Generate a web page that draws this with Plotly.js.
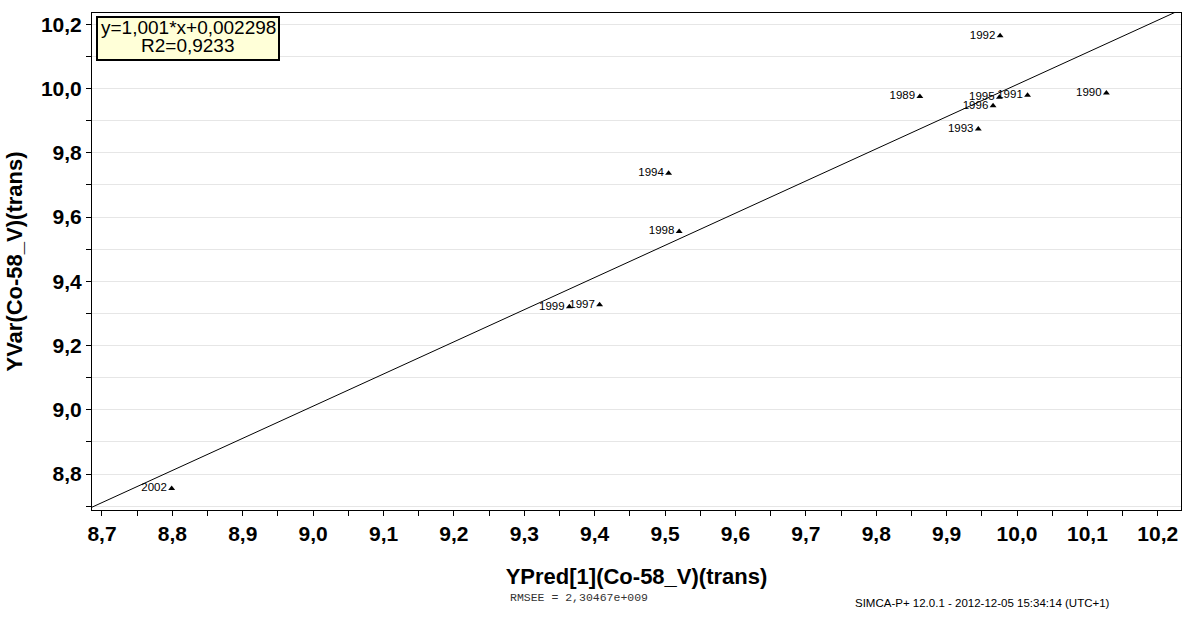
<!DOCTYPE html>
<html>
<head>
<meta charset="utf-8">
<script src="https://cdn.plot.ly/plotly-3.0.1.min.js"></script>
<style>
  html, body { margin: 0; padding: 0; background: #ffffff; }
  #chart { width: 1183px; height: 628px; }
</style>
</head>
<body>
<div id="chart"></div>
<script>
// Observation labels (years)
const years = ["1989", "1990", "1991", "1992", "1993", "1994", "1995", "1996", "1997", "1998", "1999", "2002"];
// Predicted Y (x-axis) and observed Y (y-axis), transformed Co-58_V
const yPred = [9.862, 10.127, 10.015, 9.976, 9.945, 9.505, 9.975, 9.966, 9.407, 9.520, 9.364, 8.799];
const yVar  = [9.975, 9.986, 9.979, 10.164, 9.874, 9.736, 9.973, 9.946, 9.327, 9.555, 9.321, 8.755];

// Fitted regression line and its statistics
const slope = 1.001;
const intercept = 0.002298;
const r2 = 0.9233;
const rmsee = "2,30467e+009";
const stamp = "SIMCA-P+ 12.0.1 - 2012-12-05 15:34:14 (UTC+1)";

const xRange = [8.6858, 10.233];
const yRange = [8.688, 10.235];

const fmt = (v) => String(v).replace(".", ",");

const lineX = [8.6, 10.3];
const lineY = lineX.map(x => slope * x + intercept);

const traces = [
  {
    x: lineX, y: lineY, type: "scatter", mode: "lines",
    line: { color: "#000000", width: 1 },
    hoverinfo: "skip", showlegend: false
  },
  {
    x: yPred, y: yVar, text: years, type: "scatter", mode: "markers+text",
    textposition: "middle left",
    textfont: { family: "Liberation Sans, Arial, sans-serif", size: 11.5, color: "#000000" },
    marker: { symbol: "triangle-up", size: 6, color: "#000000" },
    showlegend: false, cliponaxis: false
  }
];

// Plot area in pixels: left 92, right 1181, top 13, bottom 510
const PL = 92, PR = 1181, PT = 13, PB = 510;
const px = (p) => (p - PL) / (PR - PL);
const py = (p) => (PB - p) / (PB - PT);

const tickFont = { family: "Liberation Sans, Arial, sans-serif", size: 21, color: "#000000", weight: "bold" };
const titleFont = { family: "Liberation Sans, Arial, sans-serif", size: 22, color: "#000000", weight: "bold" };

const layout = {
  width: 1183, height: 628,
  margin: { l: PL, r: 1183 - PR, t: PT, b: 628 - PB, pad: 0 },
  paper_bgcolor: "#ffffff", plot_bgcolor: "#ffffff",
  separators: ", ",
  showlegend: false,
  xaxis: {
    range: xRange, tick0: 8.7, dtick: 0.1, tickformat: ".1f",
    ticks: "outside", ticklen: 5, tickcolor: "#000000", tickwidth: 1,
    minor: { dtick: 0.05, ticks: "outside", ticklen: 5, tickcolor: "#000000", showgrid: false },
    showgrid: false, zeroline: false,
    showline: true, linecolor: "#000000", linewidth: 1, mirror: true,
    tickfont: tickFont,
    title: { text: "YPred[1](Co-58_V)(trans)", font: titleFont, standoff: 24 }
  },
  yaxis: {
    range: yRange, tick0: 8.8, dtick: 0.2, tickformat: ".1f",
    ticks: "outside", ticklen: 5, tickcolor: "#000000", tickwidth: 1,
    minor: { dtick: 0.1, ticks: "outside", ticklen: 5, tickcolor: "#000000",
             showgrid: true, gridcolor: "#e6e6e6", gridwidth: 1 },
    showgrid: true, gridcolor: "#e6e6e6", gridwidth: 1, zeroline: false,
    showline: true, linecolor: "#000000", linewidth: 1, mirror: true,
    tickfont: tickFont,
    title: { text: "YVar(Co-58_V)(trans)", font: titleFont, standoff: 12 }
  },
  shapes: [
    {
      type: "rect", xref: "paper", yref: "paper", layer: "above",
      x0: px(97), x1: px(279), y0: py(60), y1: py(17),
      fillcolor: "#ffffd8", line: { color: "#000000", width: 2 }
    }
  ],
  annotations: [
    {
      xref: "paper", yref: "paper", x: px(188), y: py(28),
      xanchor: "center", yanchor: "middle", showarrow: false,
      text: "y=" + fmt(slope) + "*x+" + fmt(intercept),
      font: { family: "Liberation Sans, Arial, sans-serif", size: 19, color: "#000000" }
    },
    {
      xref: "paper", yref: "paper", x: px(188), y: py(46),
      xanchor: "center", yanchor: "middle", showarrow: false,
      text: "R2=" + fmt(r2),
      font: { family: "Liberation Sans, Arial, sans-serif", size: 19, color: "#000000" }
    },
    {
      xref: "paper", yref: "paper", x: px(508), y: py(597),
      xanchor: "left", yanchor: "middle", showarrow: false,
      text: "RMSEE = " + rmsee,
      font: { family: "Courier New, Liberation Mono, monospace", size: 11.5, color: "#333333" }
    },
    {
      xref: "paper", yref: "paper", x: px(853), y: py(603),
      xanchor: "left", yanchor: "middle", showarrow: false,
      text: stamp,
      font: { family: "Liberation Sans, Arial, sans-serif", size: 11.5, color: "#000000" }
    }
  ]
};

Plotly.newPlot("chart", traces, layout, { staticPlot: true, displayModeBar: false });
</script>
</body>
</html>
